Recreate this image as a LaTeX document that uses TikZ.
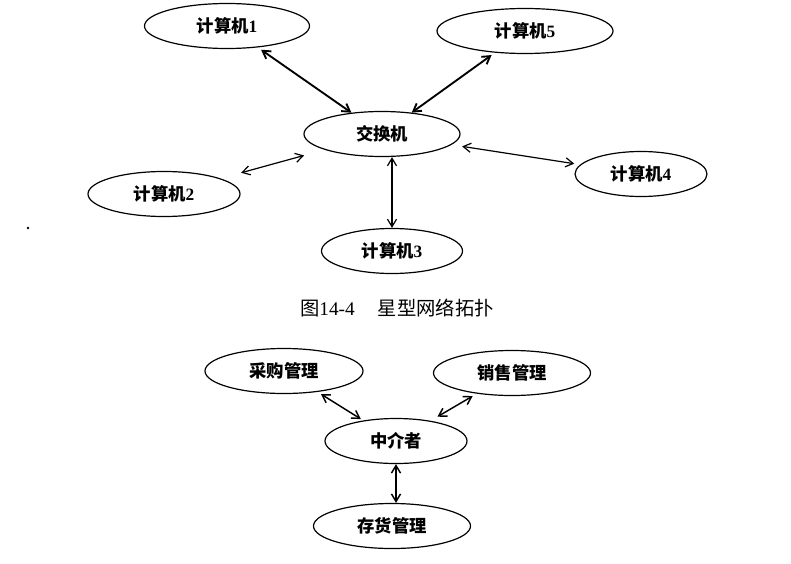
\documentclass[tikz,border=0pt]{standalone}
\usepackage{fontspec}
\setmainfont{Liberation Serif}
\newfontfamily\cjk{Noto Sans CJK SC}
\usetikzlibrary{arrows.meta,shapes.geometric}

\begin{document}
\begin{tikzpicture}[
  x=0.75pt, y=-0.75pt,
  host/.style={draw, ellipse, line width=0.9pt, inner sep=0pt, minimum height=33.75pt, font=\fontsize{13}{15}\selectfont\bfseries},
  link/.style={{Straight Barb[length=2mm,width=2.4mm]}-{Straight Barb[length=2mm,width=2.4mm]}, line width=0.9pt},
  hub/.style={link, line width=1.4pt},
  flow/.style={link, line width=1.1pt}]
\useasboundingbox (0,0) rectangle (791,563);
% star topology
\node[host, minimum width=123.75pt] (pc1) at (227,26) {{\cjk 计算机}1};
\node[host, minimum width=132pt] (pc5) at (525,31) {{\cjk 计算机}5};
\node[host, minimum width=117pt] (sw) at (382,134) {\cjk 交换机};
\node[host, minimum width=114pt] (pc2) at (164,194) {{\cjk 计算机}2};
\node[host, minimum width=99pt] (pc4) at (641,174) {{\cjk 计算机}4};
\node[host, minimum width=105.75pt] (pc3) at (392,251) {{\cjk 计算机}3};
\node[font=\fontsize{14.5}{17}\selectfont] (cap) at (397,308) {{\cjk 图}14-4\hspace{1.2em}{\cjk 星型网络拓扑}};
\draw[hub, shorten <=3pt] (pc1) -- (sw);
\draw[hub, shorten <=3pt] (pc5) -- (sw);
\draw[link, shorten <=16pt, shorten >=16pt] (pc2) -- (sw);
\draw[link, shorten <=8pt, shorten >=4.5pt] (sw) -- (pc4);
\draw[link] (sw.south -| pc3.north) -- (pc3.north);
% mediator
\node[host, minimum width=118.5pt] (buy) at (284,371) {\cjk 采购管理};
\node[host, minimum width=117.75pt] (sell) at (512,373) {\cjk 销售管理};
\node[host, minimum width=106.5pt] (mid) at (396,441) {\cjk 中介者};
\node[host, minimum width=117.75pt] (stock) at (392,526) {\cjk 存货管理};
\draw[flow, shorten <=3pt, shorten >=2pt] (buy) -- (mid);
\draw[flow, shorten <=3.5pt, shorten >=6pt] (sell) -- (mid);
\draw[flow] (mid.south) -- (mid.south |- stock.north);
\fill (28,228) circle (1pt);
\end{tikzpicture}
\end{document}
